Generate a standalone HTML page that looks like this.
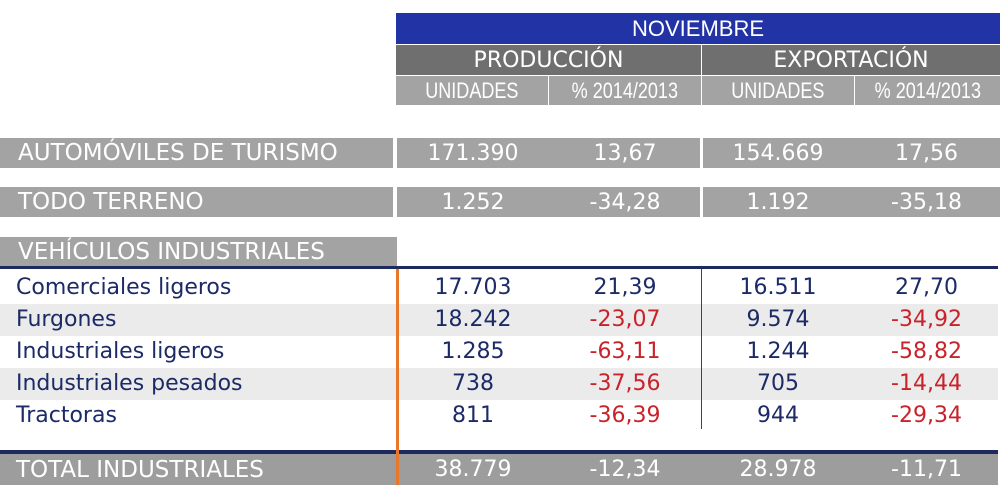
<!DOCTYPE html><html><head><meta charset="utf-8"><style>
body{margin:0;width:1000px;height:500px;background:#fff;position:relative;overflow:hidden;font-family:"DejaVu Sans","Liberation Sans",sans-serif}
div{position:absolute;box-sizing:border-box}
.t{text-align:center;white-space:nowrap}
.g{background:#a3a3a3;color:#fff}
.n{color:#1c2a66}.r{color:#c8222a}
.h{font-family:'Liberation Sans',sans-serif;font-size:22px;line-height:29px}
.h span{display:inline-block;transform:scaleX(.82)}
</style></head><body>
<div class="t" style="left:396px;top:13px;width:604px;height:31px;background:#2233a6;color:#fff;font-family:'Liberation Sans',sans-serif;font-size:22px;line-height:31px">NOVIEMBRE</div>
<div class="t" style="left:396px;top:45px;width:305px;height:30px;background:#6f6f6f;color:#fff;font-size:22px;line-height:31px">PRODUCCIÓN</div>
<div class="t" style="left:702px;top:45px;width:298px;height:30px;background:#6f6f6f;color:#fff;font-size:22px;line-height:31px">EXPORTACIÓN</div>
<div class="t g h" style="left:396px;top:76px;width:152px;height:29px"><span>UNIDADES</span></div>
<div class="t g h" style="left:549px;top:76px;width:152px;height:29px"><span>% 2014/2013</span></div>
<div class="t g h" style="left:702px;top:76px;width:152px;height:29px"><span>UNIDADES</span></div>
<div class="t g h" style="left:855px;top:76px;width:145px;height:29px"><span>% 2014/2013</span></div>

<div class="g" style="left:0;top:138px;width:393px;height:30px;font-size:23px;line-height:31px;padding-left:18px">AUTOMÓVILES DE TURISMO</div>
<div class="g" style="left:397px;top:138px;width:303px;height:30px"></div>
<div class="g" style="left:703px;top:138px;width:297px;height:30px"></div>
<div class="t" style="left:397px;top:138px;width:152px;line-height:31px;font-size:22px;color:#fff">171.390</div>
<div class="t" style="left:549px;top:138px;width:152px;line-height:31px;font-size:22px;color:#fff">13,67</div>
<div class="t" style="left:703px;top:138px;width:150px;line-height:31px;font-size:22px;color:#fff">154.669</div>
<div class="t" style="left:853px;top:138px;width:147px;line-height:31px;font-size:22px;color:#fff">17,56</div>

<div class="g" style="left:0;top:187px;width:393px;height:30px;font-size:23px;line-height:31px;padding-left:18px">TODO TERRENO</div>
<div class="g" style="left:397px;top:187px;width:303px;height:30px"></div>
<div class="g" style="left:703px;top:187px;width:297px;height:30px"></div>
<div class="t" style="left:397px;top:187px;width:152px;line-height:31px;font-size:22px;color:#fff">1.252</div>
<div class="t" style="left:549px;top:187px;width:152px;line-height:31px;font-size:22px;color:#fff">-34,28</div>
<div class="t" style="left:703px;top:187px;width:150px;line-height:31px;font-size:22px;color:#fff">1.192</div>
<div class="t" style="left:853px;top:187px;width:147px;line-height:31px;font-size:22px;color:#fff">-35,18</div>

<div class="g" style="left:0;top:237px;width:397px;height:31px;font-size:23px;line-height:31px;padding-left:18px">VEHÍCULOS INDUSTRIALES</div>
<div style="left:0;top:266px;width:998px;height:3px;background:#1c2a5e"></div>
<div style="left:0;top:304px;width:998px;height:32px;background:#ebebeb"></div>
<div style="left:0;top:368px;width:998px;height:32px;background:#ebebeb"></div>
<div style="left:701px;top:269px;width:1px;height:160px;background:#444"></div>
<div style="left:0;top:450px;width:998px;height:4px;background:#1c2a5e"></div>
<div class="g" style="left:0;top:454px;width:998px;height:31px;background:#9d9d9d"></div>
<div style="left:396px;top:269px;width:3px;height:216px;background:#e8772e"></div>

<div style="left:16px;top:272px;font-size:22px;line-height:32px" class="n">Comerciales ligeros</div>
<div style="left:16px;top:304px;font-size:22px;line-height:32px" class="n">Furgones</div>
<div style="left:16px;top:336px;font-size:22px;line-height:32px" class="n">Industriales ligeros</div>
<div style="left:16px;top:368px;font-size:22px;line-height:32px" class="n">Industriales pesados</div>
<div style="left:16px;top:400px;font-size:22px;line-height:32px" class="n">Tractoras</div>
<div style="left:16px;top:454px;font-size:23px;line-height:32px;color:#fff">TOTAL INDUSTRIALES</div>

<div style="left:397px;top:272px;width:152px;font-size:22px;line-height:32px" class="t n">17.703<br>18.242<br>1.285<br>738<br>811</div>
<div style="left:549px;top:272px;width:152px;font-size:22px;line-height:32px" class="t"><span class="n">21,39</span><br><span class="r">-23,07</span><br><span class="r">-63,11</span><br><span class="r">-37,56</span><br><span class="r">-36,39</span></div>
<div style="left:703px;top:272px;width:150px;font-size:22px;line-height:32px" class="t n">16.511<br>9.574<br>1.244<br>705<br>944</div>
<div style="left:853px;top:272px;width:147px;font-size:22px;line-height:32px" class="t"><span class="n">27,70</span><br><span class="r">-34,92</span><br><span class="r">-58,82</span><br><span class="r">-14,44</span><br><span class="r">-29,34</span></div>

<div class="t" style="left:397px;top:454px;width:152px;line-height:32px;font-size:22px;color:#fff">38.779</div>
<div class="t" style="left:549px;top:454px;width:152px;line-height:32px;font-size:22px;color:#fff">-12,34</div>
<div class="t" style="left:703px;top:454px;width:150px;line-height:32px;font-size:22px;color:#fff">28.978</div>
<div class="t" style="left:853px;top:454px;width:147px;line-height:32px;font-size:22px;color:#fff">-11,71</div>
</body></html>
